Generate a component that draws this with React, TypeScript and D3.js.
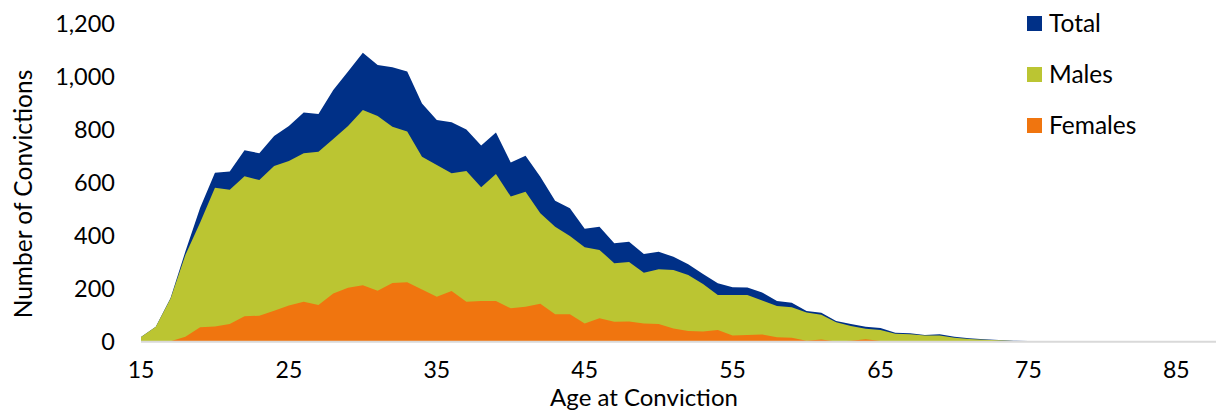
import * as d3 from 'd3';
import { useEffect, useRef } from 'react';

const ages = d3.range(15, 89);

const total = [
  18, 56, 165, 340, 505, 637, 641, 722, 710, 775, 813, 864, 858, 949, 1018, 1089, 1043, 1034, 1018, 898,
  836, 827, 800, 739, 788, 675, 701, 622, 531, 503, 426, 433, 371, 377, 331, 339, 320, 292, 255, 220,
  205, 204, 185, 153, 147, 116, 109, 78, 67, 56, 52, 34, 32, 25, 28, 19, 13, 9, 6, 4,
  3, 2, 1, 1, 0, 0, 0, 0, 0, 0, 0, 0, 0, 0,
];

const males = [
  18, 56, 163, 327, 449, 580, 573, 624, 609, 662, 681, 710, 716, 764, 813, 873, 851, 810, 792, 697,
  666, 635, 643, 582, 632, 547, 565, 484, 433, 398, 356, 346, 296, 300, 260, 273, 270, 251, 217, 176,
  176, 176, 155, 135, 130, 110, 102, 73, 59, 49, 44, 30, 28, 23, 23, 15, 10, 7, 5, 3,
  2, 2, 1, 1, 0, 0, 0, 0, 0, 0, 0, 0, 0, 0,
];

const females = [
  0, 0, 2, 19, 54, 57, 67, 96, 98, 117, 136, 151, 138, 182, 203, 213, 192, 221, 224, 197,
  169, 191, 151, 153, 153, 126, 132, 143, 103, 103, 69, 88, 75, 76, 69, 67, 50, 40, 38, 44,
  23, 25, 27, 17, 15, 4, 8, 1, 4, 9, 3, 1, 1, 0, 0, 0, 0, 0, 0, 0,
  0, 0, 0, 0, 0, 0, 0, 0, 0, 0, 0, 0, 0, 0,
];

const xTicks = [15, 25, 35, 45, 55, 65, 75, 85];
const yTicks = [0, 200, 400, 600, 800, 1000, 1200];

const seriesNames = ['Total', 'Males', 'Females'];
const seriesColors = ['#003087', '#BBC532', '#F0750F'];

const width = 1216;
const height = 411;
const font = 'Lato, "Open Sans", sans-serif';

export default function App() {
  const svgRef = useRef<SVGSVGElement>(null);

  useEffect(() => {
    const svg = d3.select(svgRef.current);
    svg.selectAll('*').remove();

    const x = d3.scaleLinear().domain([15, 85]).range([141, 1176.3]);
    const y = d3.scaleLinear().domain([0, 1200]).range([341.7, 23.3]);

    const area = d3
      .area<number>()
      .x((d, i) => x(ages[i]))
      .y0(y(0))
      .y1((d) => y(d));

    // areas overlap, drawn back to front
    [total, males, females].forEach((values, i) => {
      svg.append('path').attr('d', area(values)).attr('fill', seriesColors[i]);
    });

    // baseline
    svg
      .append('line')
      .attr('x1', 141)
      .attr('x2', width)
      .attr('y1', y(0))
      .attr('y2', y(0))
      .attr('stroke', '#D9D9D9')
      .attr('stroke-width', 2);

    const fmt = d3.format(',');
    svg
      .append('g')
      .selectAll('text')
      .data(yTicks)
      .join('text')
      .attr('x', 115)
      .attr('y', (d) => y(d))
      .attr('dy', '0.36em')
      .attr('text-anchor', 'end')
      .attr('font-family', font)
      .attr('font-size', 23.5)
      .attr('fill', '#000')
      .text((d) => fmt(d));

    svg
      .append('g')
      .selectAll('text')
      .data(xTicks)
      .join('text')
      .attr('x', (d) => x(d))
      .attr('y', 377.5)
      .attr('text-anchor', 'middle')
      .attr('font-family', font)
      .attr('font-size', 23)
      .attr('fill', '#000')
      .text((d) => d);

    svg
      .append('text')
      .attr('x', 644)
      .attr('y', 406)
      .attr('text-anchor', 'middle')
      .attr('font-family', font)
      .attr('font-size', 24)
      .attr('fill', '#000')
      .text('Age at Conviction');

    svg
      .append('text')
      .attr('transform', 'translate(32,194) rotate(-90)')
      .attr('text-anchor', 'middle')
      .attr('font-family', font)
      .attr('font-size', 24.5)
      .attr('fill', '#000')
      .text('Number of Convictions');

    // legend
    const legend = svg
      .append('g')
      .selectAll('g')
      .data(seriesNames)
      .join('g')
      .attr('transform', (d, i) => `translate(1027,${23.5 + i * 51})`);
    legend
      .append('rect')
      .attr('x', 0)
      .attr('y', -7.5)
      .attr('width', 15)
      .attr('height', 15)
      .attr('fill', (d, i) => seriesColors[i]);
    legend
      .append('text')
      .attr('x', 22)
      .attr('dy', '0.36em')
      .attr('font-family', font)
      .attr('font-size', 24.5)
      .attr('fill', '#000')
      .text((d) => d);
  }, []);

  return (
    <svg
      ref={svgRef}
      width={width}
      height={height}
      style={{ position: 'absolute', left: 0, top: 0, display: 'block' }}
    />
  );
}
